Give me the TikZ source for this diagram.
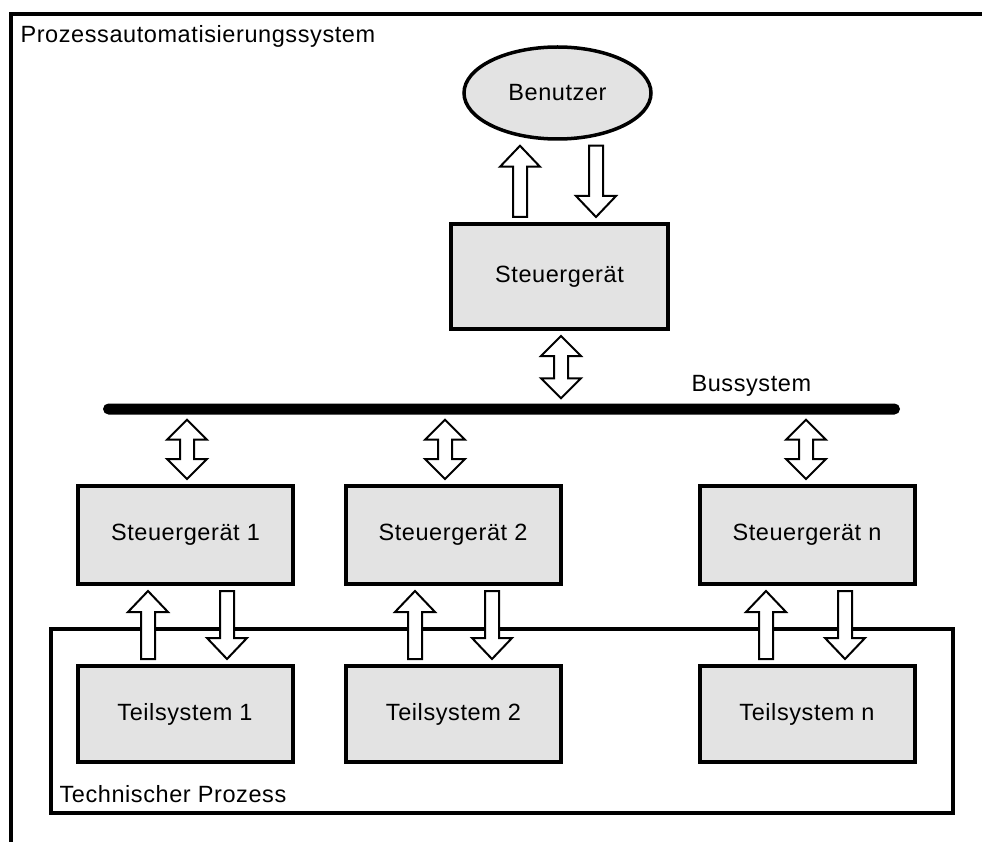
\documentclass[tikz,border=0pt]{standalone}
\usepackage{fontspec}
\setmainfont[LetterSpace=2.5]{Liberation Sans}
\usetikzlibrary{calc}
\usetikzlibrary{shapes.geometric}
\tikzstyle{every node} = [font=\fontsize{23.5}{28}\selectfont]
\tikzstyle{geraet} = [draw, line width=4pt, fill=black!11, minimum width=215pt, minimum height=98pt, inner sep=0pt]
\tikzstyle{teil} = [geraet, minimum height=96pt]
\tikzstyle{nutzer} = [ellipse, draw, line width=3.5pt, fill=black!11, minimum width=187pt, minimum height=92pt, inner sep=0pt]
\tikzstyle{blockpfeil} = [draw, line width=2pt, fill=white, line join=miter]
% #1 Anfang (x und y), #2 Ziel (nur y)
\newcommand{\pfeil}[2]{%
  \draw[blockpfeil] let \p1=(#1), \p2=(#2), \n1={(\y2-\y1)/abs(\y2-\y1)} in
    (\x1-7pt,\y1+\n1*5pt) -- (\x1-7pt,\y2-\n1*26pt) -- (\x1-20pt,\y2-\n1*26pt)
    -- (\x1,\y2-\n1*5pt) -- (\x1+20pt,\y2-\n1*26pt) -- (\x1+7pt,\y2-\n1*26pt)
    -- (\x1+7pt,\y1+\n1*5pt) -- cycle;}
\newcommand{\doppelpfeil}[2]{%
  \draw[blockpfeil] let \p1=(#1), \p2=(#2), \n1={(\y2-\y1)/abs(\y2-\y1)} in
    (\x1,\y1+\n1*5pt) -- (\x1+20pt,\y1+\n1*25pt) -- (\x1+7pt,\y1+\n1*25pt)
    -- (\x1+7pt,\y2-\n1*25pt) -- (\x1+20pt,\y2-\n1*25pt) -- (\x1,\y2-\n1*5pt)
    -- (\x1-20pt,\y2-\n1*25pt) -- (\x1-7pt,\y2-\n1*25pt) -- (\x1-7pt,\y1+\n1*25pt)
    -- (\x1-20pt,\y1+\n1*25pt) -- cycle;}

\begin{document}
\begin{tikzpicture}[x=1pt,y=-1pt]
                    \useasboundingbox (0,0) rectangle (982,842);
                    % Rahmen Prozessautomatisierungssystem
                    \draw[line width=4pt] (11,842) -- (11,14) -- (982,14);
                    \node[anchor=base west] (pas) at (17,43) {Prozessautomatisierungssystem};
                    % Technischer Prozess
                    \node[draw, line width=4pt, minimum width=902pt, minimum height=184pt] (tp) at (502,721) {};
                    \node[anchor=base west] (tplabel) at (56,802) {Technischer Prozess};

                    \node[nutzer] (ben) at (557.5,93) {Benutzer};
                    \node[geraet, minimum width=217pt, minimum height=105pt] (sg) at (559.5,276.5) {Steuergerät};
                    \node[fill=black, minimum width=797pt, minimum height=11pt, inner sep=0pt, rounded corners=5.5pt] (bus) at (501.5,409) {};
                    \node[anchor=base west] (buslabel) at (688,391) {Bussystem};

                    \node[geraet] (sg1) at (185.5,535) {Steuergerät 1};
                    \node[geraet] (sg2) at (453,535) {Steuergerät 2};
                    \node[geraet] (sgn) at (807,535) {Steuergerät n};
                    \node[teil] (ts1) at (185,714) {Teilsystem 1};
                    \node[teil] (ts2) at (453.5,714) {Teilsystem 2};
                    \node[teil] (tsn) at (807,714) {Teilsystem n};

                    \pfeil{[xshift=-39.5pt]sg.north}{ben.south}
                    \pfeil{[xshift=38.5pt]ben.south}{sg.north}
                    \doppelpfeil{[xshift=1.5pt]sg.south}{bus.north}
                    \doppelpfeil{[xshift=1.5pt]sg1.north}{bus.south}
                    \doppelpfeil{[xshift=-8pt]sg2.north}{bus.south}
                    \doppelpfeil{[xshift=-1pt]sgn.north}{bus.south}

                    \pfeil{[xshift=-37pt]ts1.north}{sg1.south}
                    \pfeil{[xshift=41.5pt]sg1.south}{ts1.north}
                    \pfeil{[xshift=-38.5pt]ts2.north}{sg2.south}
                    \pfeil{[xshift=39pt]sg2.south}{ts2.north}
                    \pfeil{[xshift=-41pt]tsn.north}{sgn.south}
                    \pfeil{[xshift=38pt]sgn.south}{tsn.north}
                \end{tikzpicture}
\end{document}
